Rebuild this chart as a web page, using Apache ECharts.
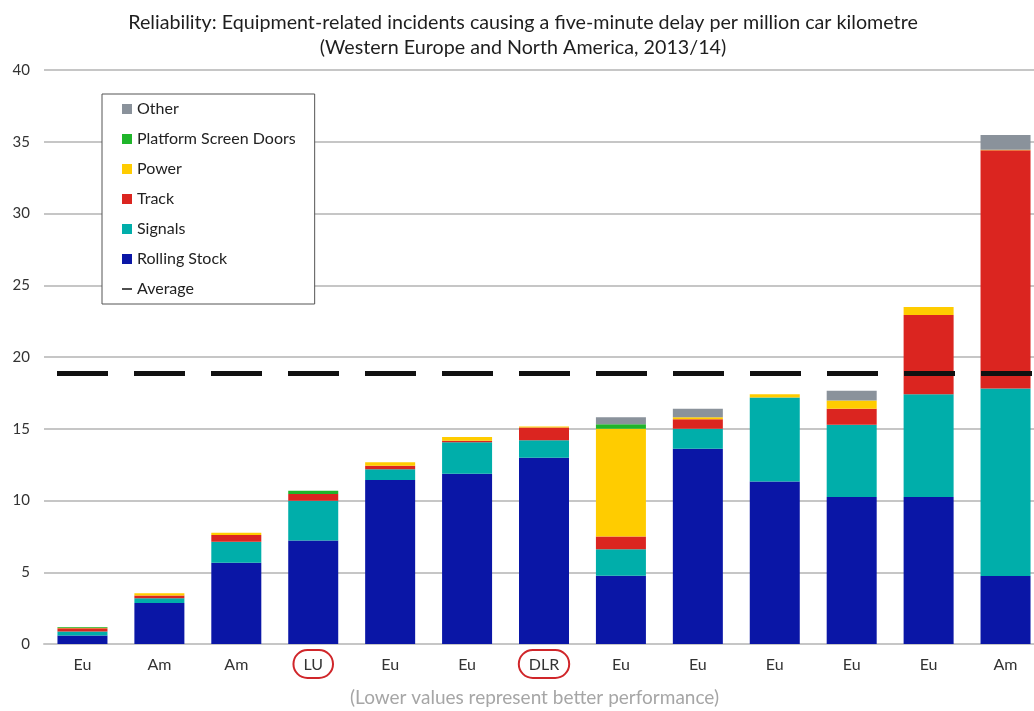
<!DOCTYPE html>
<html>
<head>
<meta charset="utf-8">
<script src="https://cdn.jsdelivr.net/npm/echarts@6/dist/echarts.min.js"></script>
<style>
  html, body { margin: 0; padding: 0; background: #fff; }
  #chart { width: 1034px; height: 711px; }
</style>
</head>
<body>
<div id="chart"></div>
<script>
// categories along the x axis
const regions = ['Eu', 'Am', 'Am', 'LU', 'Eu', 'Eu', 'DLR', 'Eu', 'Eu', 'Eu', 'Eu', 'Eu', 'Am'];

// stacked components, bottom to top
const rollingStock = [0.6, 2.85, 5.67, 7.22, 11.42, 11.86, 12.98, 4.75, 13.6, 11.32, 10.24, 10.24, 4.74];
const signals      = [0.27, 0.33, 1.46, 2.76, 0.75, 2.2, 1.22, 1.85, 1.4, 5.85, 5.04, 7.16, 13.06];
const track        = [0.22, 0.2, 0.47, 0.47, 0.25, 0.11, 0.88, 0.9, 0.67, 0, 1.11, 5.53, 16.6];
const power        = [0.05, 0.15, 0.16, 0, 0.24, 0.26, 0.07, 7.5, 0.13, 0.23, 0.58, 0.55, 0.05];
const screenDoors  = [0.04, 0, 0, 0.23, 0, 0, 0, 0.32, 0, 0, 0, 0, 0];
const other        = [0, 0, 0, 0, 0, 0, 0, 0.48, 0.6, 0, 0.68, 0, 1.02];

const averageValue = 18.9;
const yTicks = { min: 0, max: 40, interval: 5 };
const highlighted = ['LU', 'DLR'];

const FONT = 'Lato, "Open Sans", sans-serif';

const chart = echarts.init(document.getElementById('chart'));

function barSeries(name, data, color) {
  return {
    name: name,
    type: 'bar',
    stack: 'total',
    barWidth: 50,
    data: data,
    itemStyle: { color: color },
    emphasis: { disabled: true }
  };
}

chart.setOption({
  animation: false,
  title: {
    text: 'Reliability: Equipment-related incidents causing a five-minute delay per million car kilometre\n(Western Europe and North America, 2013/14)',
    left: 518,
    top: 5,
    textAlign: 'center',
    textStyle: { fontFamily: FONT, fontSize: 19.7, fontWeight: 'normal', color: '#1e1e1e', lineHeight: 25 }
  },
  legend: {
    orient: 'vertical',
    left: 102,
    top: 94,
    padding: [5, 19, 5, 20],
    itemGap: 10,
    itemWidth: 10,
    itemHeight: 10,
    backgroundColor: '#fff',
    borderColor: '#555',
    borderWidth: 1,
    textStyle: { fontFamily: FONT, fontSize: 16, color: '#222', lineHeight: 20 },
    data: [
      { name: 'Other', icon: 'rect' },
      { name: 'Platform Screen Doors', icon: 'rect' },
      { name: 'Power', icon: 'rect' },
      { name: 'Track', icon: 'rect' },
      { name: 'Signals', icon: 'rect' },
      { name: 'Rolling Stock', icon: 'rect' },
      { name: 'Average', icon: 'path://M0,0h10v1.6h-10z' }
    ]
  },
  grid: { left: 44, width: 1000, top: 70, bottom: 67, outerBoundsMode: 'none' },
  xAxis: {
    type: 'category',
    data: regions,
    axisLine: { lineStyle: { color: '#c6c6c6', width: 2 } },
    axisTick: { show: false },
    axisLabel: {
      margin: 6,
      fontFamily: FONT,
      fontSize: 16,
      color: '#333',
      formatter: v => highlighted.includes(v) ? '{c|' + v + '}' : '{a|' + v + '}',
      rich: {
        a: { fontFamily: FONT, fontSize: 16, color: '#333', padding: [7, 10, 5, 10], borderWidth: 2, borderColor: 'transparent' },
        c: { fontFamily: FONT, fontSize: 16, color: '#333', padding: [7, 10, 5, 10], borderWidth: 2, borderColor: '#d0262a', borderRadius: 20 }
      }
    }
  },
  yAxis: {
    type: 'value',
    min: yTicks.min,
    max: yTicks.max,
    interval: yTicks.interval,
    axisLine: { show: false },
    axisTick: { show: false },
    axisLabel: { margin: 14, fontFamily: FONT, fontSize: 15, color: '#333' },
    splitLine: { lineStyle: { color: '#c6c6c6', width: 2 } }
  },
  series: [
    barSeries('Rolling Stock', rollingStock, '#0a16a6'),
    barSeries('Signals', signals, '#00aeaa'),
    barSeries('Track', track, '#db2520'),
    barSeries('Power', power, '#ffcc00'),
    barSeries('Platform Screen Doors', screenDoors, '#1fb52a'),
    barSeries('Other', other, '#8a929b'),
    {
      name: 'Average',
      type: 'line',
      data: regions.map(() => null),
      symbol: 'none',
      itemStyle: { color: '#222' },
      lineStyle: { color: '#222' },
      markLine: {
        silent: true,
        symbol: 'none',
        label: { show: false },
        lineStyle: { color: '#111', width: 5, type: [51, 26], dashOffset: 64 },
        data: [{ yAxis: averageValue }]
      }
    }
  ],
  graphic: [{
    type: 'text',
    left: 350,
    top: 688,
    style: {
      text: '(Lower values represent better performance)',
      fontFamily: FONT,
      fontSize: 19,
      fill: '#a6a6a6'
    }
  }]
});
</script>
</body>
</html>
